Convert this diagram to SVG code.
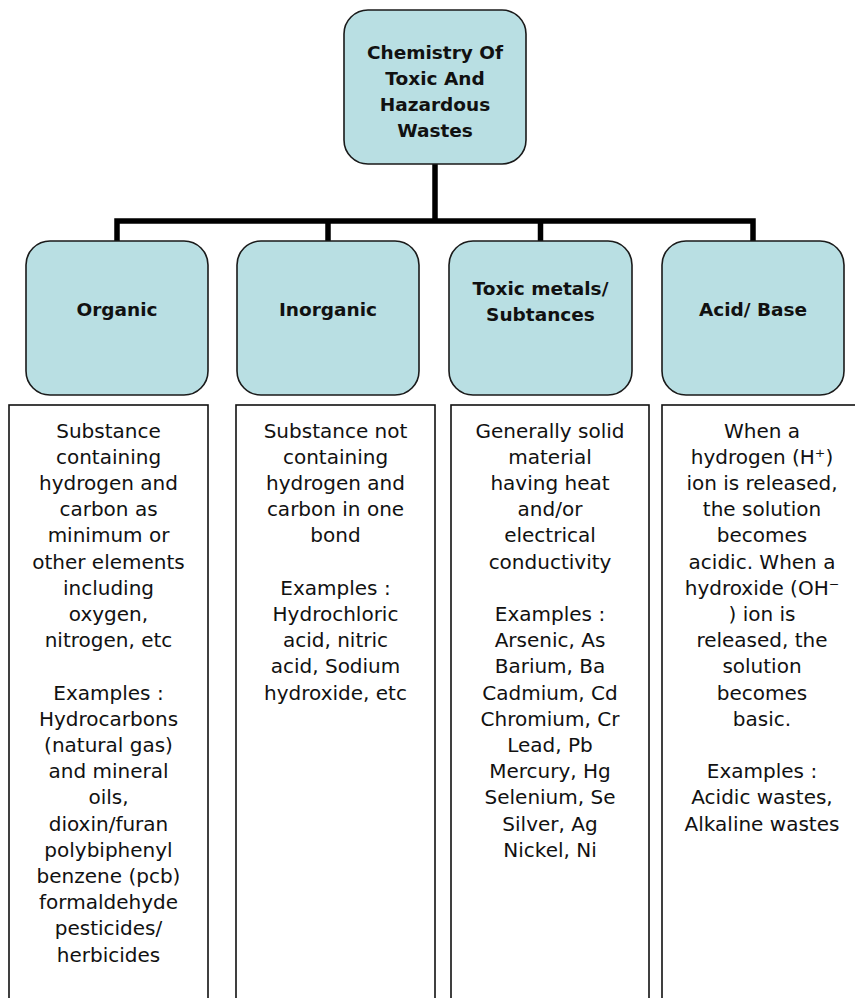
<svg xmlns="http://www.w3.org/2000/svg" width="855" height="998" viewBox="0 0 855 998">
<style>
.node{fill:#b9dfe3;stroke:#1a1a1a;stroke-width:1.6}
.tbox{fill:#ffffff;stroke:#111;stroke-width:1.6}
.hd{font-family:"Century Gothic","DejaVu Sans",sans-serif;font-weight:bold;font-size:18.5px;fill:#111;text-anchor:middle}
.bd{font-family:"Century Gothic","DejaVu Sans",sans-serif;font-size:20px;fill:#111;text-anchor:middle}
.conn{fill:none;stroke:#000;stroke-width:5.5;stroke-linecap:butt;stroke-linejoin:miter}
</style>
<rect width="855" height="998" fill="#ffffff"/>
<g id="connectors">
<path class="conn" d="M435,164 V221"/>
<path class="conn" d="M117,241 V221 H753 V241"/>
<path class="conn" d="M328,221 V241"/>
<path class="conn" d="M540.5,221 V241"/>
</g>
<g id="root">
<rect class="node" x="344" y="10" width="182" height="154" rx="24"/>
<text class="hd"><tspan x="435" y="59">Chemistry Of</tspan><tspan x="435" y="85">Toxic And</tspan><tspan x="435" y="111">Hazardous</tspan><tspan x="435" y="137">Wastes</tspan></text>
</g>
<g id="organic">
<rect class="node" x="26" y="241" width="182" height="154" rx="24"/>
<text class="hd" x="117" y="316">Organic</text>
</g>
<g id="inorganic">
<rect class="node" x="237" y="241" width="182" height="154" rx="24"/>
<text class="hd" x="328" y="316">Inorganic</text>
</g>
<g id="toxic">
<rect class="node" x="449" y="241" width="183" height="154" rx="24"/>
<text class="hd"><tspan x="540.5" y="295">Toxic metals/</tspan><tspan x="540.5" y="321">Subtances</tspan></text>
</g>
<g id="acidbase">
<rect class="node" x="662" y="241" width="182" height="154" rx="24"/>
<text class="hd" x="753" y="316">Acid/ Base</text>
</g>
<g id="organic-desc">
<rect class="tbox" x="9" y="405" width="199" height="610"/>
<text class="bd"><tspan x="108.5" y="437.5">Substance</tspan><tspan x="108.5" dy="26.2">containing</tspan><tspan x="108.5" dy="26.2">hydrogen and</tspan><tspan x="108.5" dy="26.2">carbon as</tspan><tspan x="108.5" dy="26.2">minimum or</tspan><tspan x="108.5" dy="26.2">other elements</tspan><tspan x="108.5" dy="26.2">including</tspan><tspan x="108.5" dy="26.2">oxygen,</tspan><tspan x="108.5" dy="26.2">nitrogen, etc</tspan><tspan x="108.5" dy="52.4">Examples :</tspan><tspan x="108.5" dy="26.2">Hydrocarbons</tspan><tspan x="108.5" dy="26.2">(natural gas)</tspan><tspan x="108.5" dy="26.2">and mineral</tspan><tspan x="108.5" dy="26.2">oils,</tspan><tspan x="108.5" dy="26.2">dioxin/furan</tspan><tspan x="108.5" dy="26.2">polybiphenyl</tspan><tspan x="108.5" dy="26.2">benzene (pcb)</tspan><tspan x="108.5" dy="26.2">formaldehyde</tspan><tspan x="108.5" dy="26.2">pesticides/</tspan><tspan x="108.5" dy="26.2">herbicides</tspan></text>
</g>
<g id="inorganic-desc">
<rect class="tbox" x="236" y="405" width="199" height="610"/>
<text class="bd"><tspan x="335.5" y="437.5">Substance not</tspan><tspan x="335.5" dy="26.2">containing</tspan><tspan x="335.5" dy="26.2">hydrogen and</tspan><tspan x="335.5" dy="26.2">carbon in one</tspan><tspan x="335.5" dy="26.2">bond</tspan><tspan x="335.5" dy="52.4">Examples :</tspan><tspan x="335.5" dy="26.2">Hydrochloric</tspan><tspan x="335.5" dy="26.2">acid, nitric</tspan><tspan x="335.5" dy="26.2">acid, Sodium</tspan><tspan x="335.5" dy="26.2">hydroxide, etc</tspan></text>
</g>
<g id="toxic-desc">
<rect class="tbox" x="451" y="405" width="198" height="610"/>
<text class="bd"><tspan x="550" y="437.5">Generally solid</tspan><tspan x="550" dy="26.2">material</tspan><tspan x="550" dy="26.2">having heat</tspan><tspan x="550" dy="26.2">and/or</tspan><tspan x="550" dy="26.2">electrical</tspan><tspan x="550" dy="26.2">conductivity</tspan><tspan x="550" dy="52.4">Examples :</tspan><tspan x="550" dy="26.2">Arsenic, As</tspan><tspan x="550" dy="26.2">Barium, Ba</tspan><tspan x="550" dy="26.2">Cadmium, Cd</tspan><tspan x="550" dy="26.2">Chromium, Cr</tspan><tspan x="550" dy="26.2">Lead, Pb</tspan><tspan x="550" dy="26.2">Mercury, Hg</tspan><tspan x="550" dy="26.2">Selenium, Se</tspan><tspan x="550" dy="26.2">Silver, Ag</tspan><tspan x="550" dy="26.2">Nickel, Ni</tspan></text>
</g>
<g id="acidbase-desc">
<rect class="tbox" x="662" y="405" width="210" height="610"/>
<text class="bd"><tspan x="762" y="437.5">When a</tspan><tspan x="762" dy="26.2">hydrogen (H⁺)</tspan><tspan x="762" dy="26.2">ion is released,</tspan><tspan x="762" dy="26.2">the solution</tspan><tspan x="762" dy="26.2">becomes</tspan><tspan x="762" dy="26.2">acidic. When a</tspan><tspan x="762" dy="26.2">hydroxide (OH⁻</tspan><tspan x="762" dy="26.2">) ion is</tspan><tspan x="762" dy="26.2">released, the</tspan><tspan x="762" dy="26.2">solution</tspan><tspan x="762" dy="26.2">becomes</tspan><tspan x="762" dy="26.2">basic.</tspan><tspan x="762" dy="52.4">Examples :</tspan><tspan x="762" dy="26.2">Acidic wastes,</tspan><tspan x="762" dy="26.2">Alkaline wastes</tspan></text>
</g>
</svg>
